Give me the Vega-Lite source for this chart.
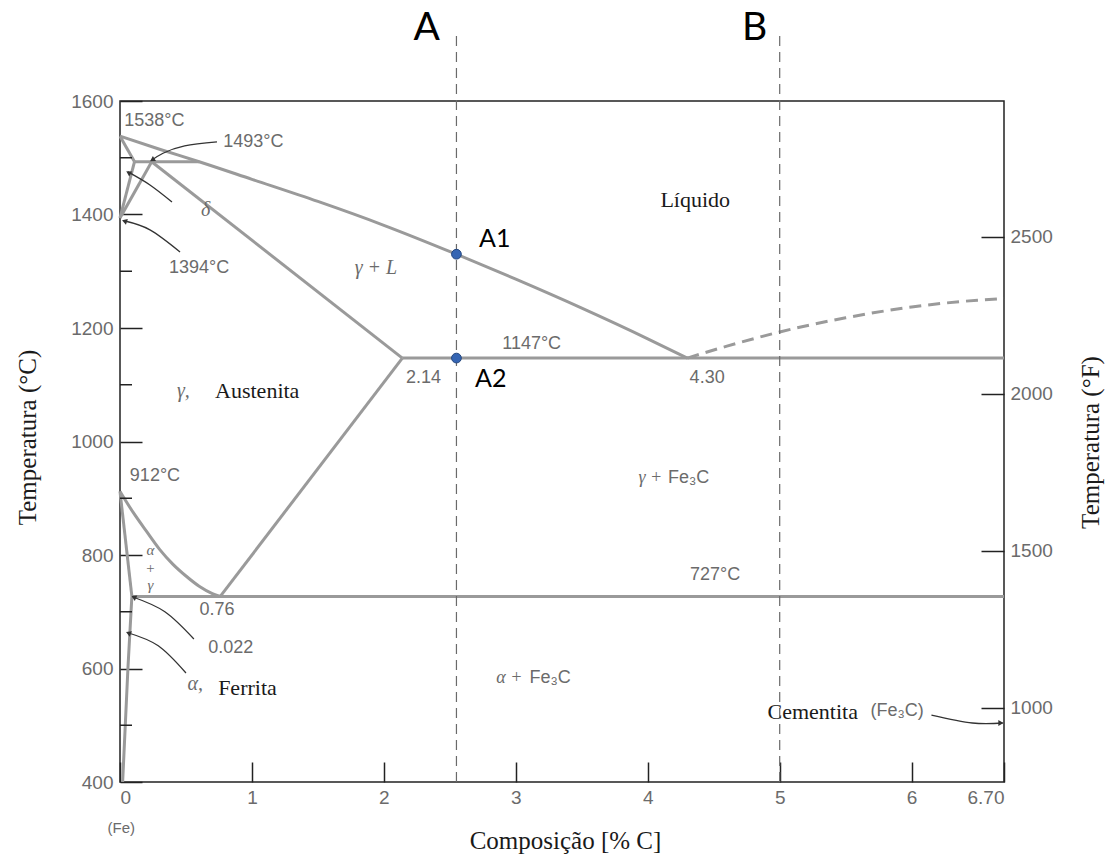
{
  "$schema": "https://vega.github.io/schema/vega-lite/v6.json",
  "width": 884,
  "height": 681,
  "autosize": {"type": "none"},
  "padding": {"left": 120, "top": 101, "right": 102, "bottom": 73},
  "background": "white",
  "config": {
    "view": {"stroke": "#222", "strokeWidth": 1.5},
    "axis": {
      "domain": false, "grid": false,
      "tickColor": "#222", "tickWidth": 1.5,
      "labelColor": "#6b6b6b", "labelFont": "Liberation Sans", "labelFontSize": 19,
      "titleFont": "Liberation Serif", "titleFontSize": 25, "titleFontWeight": "normal", "titleColor": "#1a1a1a"
    }
  },
  "datasets": {
    "lines": [
      {"id": "liq", "ord": 0, "x": 0, "T": 1538},
      {"id": "liq", "ord": 1, "x": 0.3, "T": 1515},
      {"id": "liq", "ord": 2, "x": 0.6, "T": 1493},
      {"id": "liq", "ord": 3, "x": 1.0, "T": 1462},
      {"id": "liq", "ord": 4, "x": 1.5, "T": 1423},
      {"id": "liq", "ord": 5, "x": 2.0, "T": 1381},
      {"id": "liq", "ord": 6, "x": 2.55, "T": 1330},
      {"id": "liq", "ord": 7, "x": 3.0, "T": 1286},
      {"id": "liq", "ord": 8, "x": 3.5, "T": 1235},
      {"id": "liq", "ord": 9, "x": 4.0, "T": 1181},
      {"id": "liq", "ord": 10, "x": 4.3, "T": 1147},
      {"id": "eut", "ord": 0, "x": 2.14, "T": 1147},
      {"id": "eut", "ord": 1, "x": 6.7, "T": 1147},
      {"id": "eud", "ord": 0, "x": 0.09, "T": 727},
      {"id": "eud", "ord": 1, "x": 6.7, "T": 727},
      {"id": "sol", "ord": 0, "x": 0.24, "T": 1493},
      {"id": "sol", "ord": 1, "x": 2.14, "T": 1147},
      {"id": "acm", "ord": 0, "x": 0.76, "T": 727},
      {"id": "acm", "ord": 1, "x": 2.14, "T": 1147},
      {"id": "a3", "ord": 0, "x": 0, "T": 912},
      {"id": "a3", "ord": 1, "x": 0.1, "T": 875},
      {"id": "a3", "ord": 2, "x": 0.2, "T": 842},
      {"id": "a3", "ord": 3, "x": 0.3, "T": 810},
      {"id": "a3", "ord": 4, "x": 0.4, "T": 784},
      {"id": "a3", "ord": 5, "x": 0.5, "T": 763},
      {"id": "a3", "ord": 6, "x": 0.6, "T": 745},
      {"id": "a3", "ord": 7, "x": 0.7, "T": 732},
      {"id": "a3", "ord": 8, "x": 0.76, "T": 727},
      {"id": "alf", "ord": 0, "x": 0, "T": 912},
      {"id": "alf", "ord": 1, "x": 0.09, "T": 727},
      {"id": "solv", "ord": 0, "x": 0.09, "T": 727},
      {"id": "solv", "ord": 1, "x": 0.06, "T": 600},
      {"id": "solv", "ord": 2, "x": 0.02, "T": 400},
      {"id": "dl", "ord": 0, "x": 0, "T": 1538},
      {"id": "dl", "ord": 1, "x": 0.11, "T": 1493},
      {"id": "per", "ord": 0, "x": 0.11, "T": 1493},
      {"id": "per", "ord": 1, "x": 0.6, "T": 1493},
      {"id": "dg1", "ord": 0, "x": 0.11, "T": 1493},
      {"id": "dg1", "ord": 1, "x": 0, "T": 1394},
      {"id": "dg2", "ord": 0, "x": 0.24, "T": 1493},
      {"id": "dg2", "ord": 1, "x": 0, "T": 1394}
    ],
    "dashed": [
      {"ord": 0, "x": 4.3, "T": 1147},
      {"ord": 1, "x": 4.6, "T": 1168},
      {"ord": 2, "x": 5.0, "T": 1193},
      {"ord": 3, "x": 5.5, "T": 1218},
      {"ord": 4, "x": 6.0, "T": 1237},
      {"ord": 5, "x": 6.5, "T": 1249},
      {"ord": 6, "x": 6.7, "T": 1252}
    ],
    "arrows": [
      {"id": "a1493", "ord": 0, "x": 0.735, "T": 1528},
      {"id": "a1493", "ord": 1, "x": 0.49, "T": 1521},
      {"id": "a1493", "ord": 2, "x": 0.326, "T": 1508},
      {"id": "a1493", "ord": 3, "x": 0.242, "T": 1496},
      {"id": "adelta", "ord": 0, "x": 0.394, "T": 1422},
      {"id": "adelta", "ord": 1, "x": 0.227, "T": 1452},
      {"id": "adelta", "ord": 2, "x": 0.06, "T": 1475},
      {"id": "a1394", "ord": 0, "x": 0.455, "T": 1334},
      {"id": "a1394", "ord": 1, "x": 0.227, "T": 1373},
      {"id": "a1394", "ord": 2, "x": 0.03, "T": 1389},
      {"id": "a022", "ord": 0, "x": 0.56, "T": 652},
      {"id": "a022", "ord": 1, "x": 0.34, "T": 700},
      {"id": "a022", "ord": 2, "x": 0.098, "T": 726},
      {"id": "aalpha", "ord": 0, "x": 0.5, "T": 592},
      {"id": "aalpha", "ord": 1, "x": 0.29, "T": 640},
      {"id": "aalpha", "ord": 2, "x": 0.06, "T": 663},
      {"id": "acem", "ord": 0, "x": 6.15, "T": 518},
      {"id": "acem", "ord": 1, "x": 6.46, "T": 504},
      {"id": "acem", "ord": 2, "x": 6.69, "T": 504}
    ],
    "heads": [
      {"x": 0.25, "T": 1497, "ang": 238},
      {"x": 0.07, "T": 1473, "ang": 301},
      {"x": 0.04, "T": 1388, "ang": 289},
      {"x": 0.11, "T": 725, "ang": 295},
      {"x": 0.07, "T": 662, "ang": 293},
      {"x": 6.67, "T": 504, "ang": 90}
    ],
    "vlines": [
      {"x": 2.55, "T": 400, "T2": 1716},
      {"x": 5.0, "T": 400, "T2": 1720}
    ],
    "dots": [
      {"x": 2.55, "T": 1330},
      {"x": 2.55, "T": 1147}
    ],
    "minor": [
      {"T": 500}, {"T": 700}, {"T": 900}, {"T": 1100}, {"T": 1300}, {"T": 1500}
    ],
    "graySans": [
      {"label": "1538°C", "x": 0.26, "T": 1565, "fs": 18},
      {"label": "1493°C", "x": 1.01, "T": 1528, "fs": 18},
      {"label": "1394°C", "x": 0.6, "T": 1306, "fs": 18},
      {"label": "912°C", "x": 0.265, "T": 939, "fs": 18},
      {"label": "1147°C", "x": 3.12, "T": 1172, "fs": 18},
      {"label": "727°C", "x": 4.51, "T": 765, "fs": 18},
      {"label": "2.14", "x": 2.3, "T": 1112, "fs": 18},
      {"label": "4.30", "x": 4.45, "T": 1112, "fs": 18},
      {"label": "0.76", "x": 0.735, "T": 703, "fs": 18},
      {"label": "0.022", "x": 0.84, "T": 636, "fs": 18},
      {"label": "Fe₃C", "x": 4.31, "T": 936, "fs": 18},
      {"label": "Fe₃C", "x": 3.26, "T": 583, "fs": 18},
      {"label": "(Fe₃C)", "x": 5.89, "T": 525, "fs": 18},
      {"label": "(Fe)", "x": 0.01, "T": 319, "fs": 15}
    ],
    "serifBlack": [
      {"label": "Líquido", "x": 4.36, "T": 1426},
      {"label": "Austenita", "x": 1.04, "T": 1089},
      {"label": "Ferrita", "x": 0.966, "T": 566},
      {"label": "Cementita", "x": 5.25, "T": 523}
    ],
    "italicGray": [
      {"label": "γ + L", "x": 1.94, "T": 1306, "fs": 20},
      {"label": "δ", "x": 0.65, "T": 1408, "fs": 20},
      {"label": "γ,", "x": 0.48, "T": 1089, "fs": 20},
      {"label": "α,", "x": 0.57, "T": 572, "fs": 20},
      {"label": "α", "x": 0.23, "T": 809, "fs": 15},
      {"label": "+", "x": 0.23, "T": 777, "fs": 15},
      {"label": "γ", "x": 0.23, "T": 747, "fs": 15},
      {"label": "γ +", "x": 4.02, "T": 936, "fs": 18},
      {"label": "α +", "x": 2.95, "T": 583, "fs": 18}
    ],
    "bigLabels": [
      {"label": "A", "x": 2.325, "T": 1729, "fs": 39},
      {"label": "B", "x": 4.81, "T": 1729, "fs": 39},
      {"label": "A1", "x": 2.84, "T": 1357, "fs": 25},
      {"label": "A2", "x": 2.81, "T": 1110, "fs": 25}
    ]
  },
  "layer": [
    {
      "layer": [
        {
          "data": {"name": "lines"},
          "mark": {"type": "line", "color": "#9a9a9a", "strokeWidth": 3, "interpolate": "monotone"},
          "encoding": {
            "x": {"field": "x", "type": "quantitative",
              "scale": {"domain": [0, 6.7], "nice": false, "zero": false},
              "axis": {"values": [0, 1, 2, 3, 4, 5, 6, 6.7],
                "labelExpr": "datum.value == 6.7 ? '6.70' : format(datum.value, 'd')",
                "tickSize": -20, "labelPadding": 26,
                "title": "Composição [% C]", "titleX": 445, "titleY": 58, "titleBaseline": "middle"}},
            "y": {"field": "T", "type": "quantitative",
              "scale": {"domain": [400, 1600], "nice": false, "zero": false},
              "axis": {"values": [400, 600, 800, 1000, 1200, 1400, 1600], "format": "d",
                "tickSize": -22, "labelPadding": 29,
                "title": "Temperatura (°C)", "titleAngle": -90, "titleBaseline": "middle",
                "titleX": -93, "titleY": 336}},
            "detail": {"field": "id"},
            "order": {"field": "ord"}
          }
        },
        {
          "data": {"name": "dashed"},
          "mark": {"type": "line", "color": "#9a9a9a", "strokeWidth": 3, "strokeDash": [12, 7], "interpolate": "monotone"},
          "encoding": {
            "x": {"field": "x", "type": "quantitative"},
            "y": {"field": "T", "type": "quantitative"},
            "order": {"field": "ord"}
          }
        },
        {
          "data": {"name": "minor"},
          "mark": {"type": "rule", "color": "#222", "strokeWidth": 1.5},
          "encoding": {
            "x": {"datum": 0},
            "x2": {"datum": 0.091},
            "y": {"field": "T", "type": "quantitative"}
          }
        },
        {
          "data": {"name": "vlines"},
          "mark": {"type": "rule", "color": "#6a6a6a", "strokeWidth": 1.2, "strokeDash": [10, 6]},
          "encoding": {
            "x": {"field": "x", "type": "quantitative"},
            "y": {"field": "T", "type": "quantitative"},
            "y2": {"field": "T2"}
          }
        },
        {
          "data": {"name": "arrows"},
          "mark": {"type": "line", "color": "#333", "strokeWidth": 1.3, "interpolate": "natural"},
          "encoding": {
            "x": {"field": "x", "type": "quantitative"},
            "y": {"field": "T", "type": "quantitative"},
            "detail": {"field": "id"},
            "order": {"field": "ord"}
          }
        },
        {
          "data": {"name": "heads"},
          "mark": {"type": "point", "shape": "triangle", "filled": true, "color": "#333", "size": 35, "opacity": 1},
          "encoding": {
            "x": {"field": "x", "type": "quantitative"},
            "y": {"field": "T", "type": "quantitative"},
            "angle": {"field": "ang", "type": "quantitative", "scale": null}
          }
        },
        {
          "data": {"name": "dots"},
          "mark": {"type": "point", "filled": true, "color": "#3565b3", "stroke": "#24477f", "strokeWidth": 1, "size": 95, "opacity": 1},
          "encoding": {
            "x": {"field": "x", "type": "quantitative"},
            "y": {"field": "T", "type": "quantitative"}
          }
        },
        {
          "data": {"name": "graySans"},
          "mark": {"type": "text", "font": "Liberation Sans", "color": "#6b6b6b", "align": "center", "baseline": "middle"},
          "encoding": {
            "x": {"field": "x", "type": "quantitative"},
            "y": {"field": "T", "type": "quantitative"},
            "size": {"field": "fs", "type": "quantitative", "scale": null},
            "text": {"field": "label"}
          }
        },
        {
          "data": {"name": "serifBlack"},
          "mark": {"type": "text", "font": "Liberation Serif", "fontSize": 22, "color": "#1a1a1a", "align": "center", "baseline": "middle"},
          "encoding": {
            "x": {"field": "x", "type": "quantitative"},
            "y": {"field": "T", "type": "quantitative"},
            "text": {"field": "label"}
          }
        },
        {
          "data": {"name": "italicGray"},
          "mark": {"type": "text", "font": "Liberation Serif", "fontStyle": "italic", "color": "#6b6b6b", "align": "center", "baseline": "middle"},
          "encoding": {
            "x": {"field": "x", "type": "quantitative"},
            "y": {"field": "T", "type": "quantitative"},
            "size": {"field": "fs", "type": "quantitative", "scale": null},
            "text": {"field": "label"}
          }
        },
        {
          "data": {"name": "bigLabels"},
          "mark": {"type": "text", "font": "Lato", "color": "#000", "align": "center", "baseline": "middle"},
          "encoding": {
            "x": {"field": "x", "type": "quantitative"},
            "y": {"field": "T", "type": "quantitative"},
            "size": {"field": "fs", "type": "quantitative", "scale": null},
            "text": {"field": "label"}
          }
        }
      ]
    },
    {
      "data": {"values": [{"F": 1000}, {"F": 2500}]},
      "mark": {"type": "point", "opacity": 0},
      "encoding": {
        "y": {"field": "F", "type": "quantitative",
          "scale": {"domain": [764, 2933], "nice": false, "zero": false},
          "axis": {"orient": "right", "values": [1000, 1500, 2000, 2500], "format": "d",
            "tickSize": -23, "labelPadding": 29,
            "title": "Temperatura (°F)", "titleAngle": -90, "titleBaseline": "middle",
            "titleX": 86, "titleY": 341}}
      }
    }
  ],
  "resolve": {"scale": {"y": "independent"}}
}
